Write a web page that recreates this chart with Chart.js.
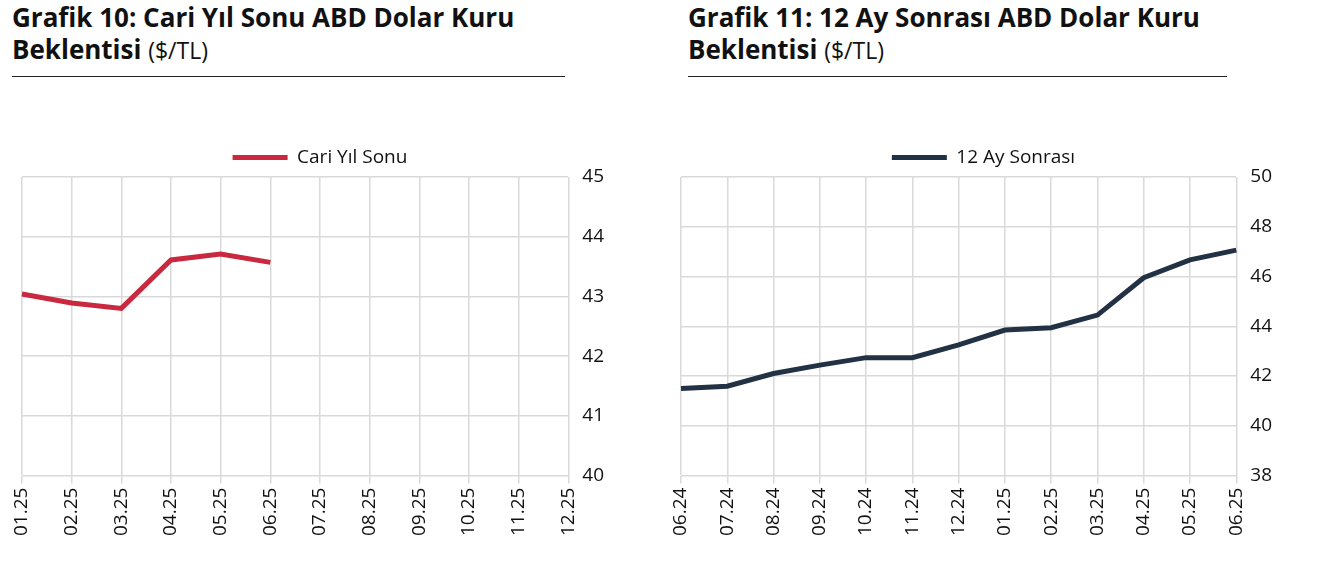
<!DOCTYPE html>
<html><head><meta charset="utf-8">
<script src="https://cdn.jsdelivr.net/npm/chart.js@4"></script>
<style>
body{margin:0;background:#fff;font-family:"Open Sans",sans-serif;width:1318px;height:572px;position:relative;overflow:hidden}
.t{position:absolute;top:1px;font-size:26px;line-height:32px;color:#111;border-bottom:1.5px solid #222;padding-bottom:10px;white-space:nowrap}
.t span{font-size:23px}
.t b{font-weight:700}
.c{position:absolute;top:138px;height:434px}
</style></head><body>
<div class="t" style="left:12px;width:553px"><b>Grafik 10: Cari Yıl Sonu ABD Dolar Kuru<br>Beklentisi</b> <span>($/TL)</span></div>
<div class="t" style="left:688px;width:539px;padding-left:0"><b>Grafik 11: 12 Ay Sonrası ABD Dolar Kuru<br>Beklentisi</b> <span>($/TL)</span></div>
<div class="c" style="left:0;width:650px"><canvas id="a"></canvas></div>
<div class="c" style="left:660px;width:658px"><canvas id="b"></canvas></div>
<script>
const labels1=["01.25","02.25","03.25","04.25","05.25","06.25","07.25","08.25","09.25","10.25","11.25","12.25"];
const values1=[43.04,42.89,42.80,43.61,43.71,43.57,null,null,null,null,null,null];
const labels2=["06.24","07.24","08.24","09.24","10.24","11.24","12.24","01.25","02.25","03.25","04.25","05.25","06.25"];
const values2=[41.50,41.59,42.1,42.44,42.74,42.74,43.25,43.85,43.94,44.45,45.95,46.67,47.06];
Chart.defaults.font.family="'Open Sans',sans-serif";
Chart.defaults.color="#111";
function mk(id,labels,data,name,color,min,max,step,padL,padR){
 new Chart(document.getElementById(id),{type:'line',
 data:{labels,datasets:[{label:name,data,borderColor:color,backgroundColor:color,borderWidth:5,pointRadius:0,tension:0}]},
 options:{responsive:true,maintainAspectRatio:false,animation:false,
  layout:{padding:{left:padL,right:padR,top:0,bottom:32}},
  plugins:{legend:{labels:{boxWidth:55,boxHeight:0,font:{size:19},padding:10}}},
  scales:{x:{offset:false,grid:{color:'#d9d9d9',lineWidth:1.5,tickLength:8,tickColor:'#d9d9d9'},border:{color:'#d9d9d9'},
     ticks:{maxRotation:90,minRotation:90,font:{size:19},padding:4}},
   y:{position:'right',min,max,ticks:{stepSize:step,font:{size:19},padding:14},grid:{color:'#d9d9d9',lineWidth:1.5,drawTicks:false},border:{display:false}}}}});
}
mk('a',labels1,values1,'Cari Yıl Sonu','#c9283e',40,45,1,22,32);
mk('b',labels2,values2,'12 Ay Sonrası','#233144',38,50,2,21,32);
</script></body></html>
